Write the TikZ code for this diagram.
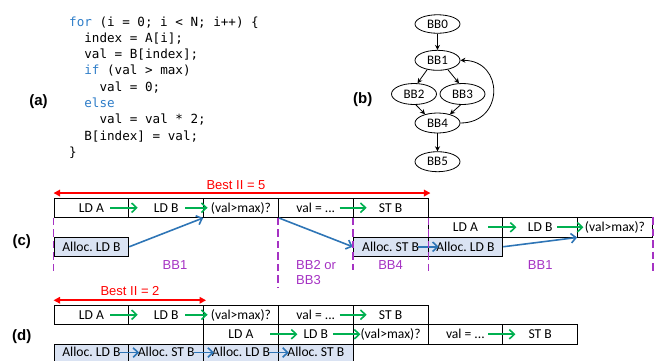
\documentclass[tikz,border=0pt]{standalone}
\usepackage{fontspec}
\setmainfont{Liberation Sans}
\newfontfamily\cellfont{Carlito}
\newfontfamily\codefont{DejaVu Sans Mono}
\usetikzlibrary{arrows.meta,shapes.geometric}
\frenchspacing

\definecolor{kwblue}{RGB}{46,125,200}
\definecolor{flowblue}{RGB}{46,117,182}
\definecolor{depgreen}{RGB}{0,176,80}
\definecolor{bbpurple}{RGB}{165,50,195}
\definecolor{allocfill}{RGB}{218,227,243}
\definecolor{iired}{RGB}{255,0,0}

\tikzset{
  cell/.style={draw=black, line width=0.9pt, rectangle, minimum width=74.8pt,
    minimum height=19.5pt, inner sep=0pt, font=\cellfont\fontsize{13.6}{16}\selectfont,
    text height=8.7pt, text depth=0pt},
  alloc/.style={cell, fill=allocfill},
  % bottom row of (d) runs off the page edge: lift its text a little
  lowalloc/.style={alloc, text depth=3pt},
  dep/.style={depgreen, line width=1.6pt, -{Straight Barb[length=5pt,width=9.5pt,line width=1.6pt]}},
  flow/.style={flowblue, line width=1.6pt, -{Straight Barb[length=5pt,width=9.5pt,line width=1.6pt]}},
  span/.style={iired, line width=1.7pt, {Triangle[length=6.5pt,width=6.5pt]}-{Triangle[length=6.5pt,width=6.5pt]}},
  bbline/.style={bbpurple, line width=1.6pt, dash pattern=on 7.5pt off 4pt},
  bblabel/.style={bbpurple, font=\fontsize{13}{15.5}\selectfont, inner sep=0pt},
  iilabel/.style={iired, font=\fontsize{13}{15.5}\selectfont, inner sep=0pt, anchor=base},
  panel/.style={font=\bfseries\fontsize{15}{18}\selectfont, inner sep=0pt},
  code/.style={font=\codefont\fontsize{12.6}{16.3}\selectfont, anchor=base west, inner sep=0pt},
  bb/.style={ellipse, draw, line width=0.8pt, minimum width=45pt, minimum height=20pt,
    inner sep=0pt, font=\cellfont\fontsize{13}{15}\selectfont},
  cfg/.style={line width=0.8pt, -{Stealth[length=5pt,width=5pt]}},
}

\begin{document}
\begin{tikzpicture}[x=1pt,y=-1pt]
\useasboundingbox (0,0) rectangle (654,360);
\clip (0,0) rectangle (654,360);

% ---------- (a) source loop ----------
\node[panel] (pa) at (38.5,101.5) {(a)};
\node[code] (l1) at (69,26)     {\textcolor{kwblue}{for} (i = 0; i < N; i++) \{};
\node[code] (l2) at (84.2,42.3) {index = A[i];};
\node[code] (l3) at (84.2,58.6) {val = B[index];};
\node[code] (l4) at (84.2,74.9) {\textcolor{kwblue}{if} (val > max)};
\node[code] (l5) at (99.4,91.2) {val = 0;};
\node[code] (l6) at (84.2,107.5){\textcolor{kwblue}{else}};
\node[code] (l7) at (99.4,123.8){val = val * 2;};
\node[code] (l8) at (84.2,140.1){B[index] = val;};
\node[code] (l9) at (69,156.4)  {\}};

% ---------- (b) control-flow graph ----------
\node[panel] (pb) at (362.7,100) {(b)};
\node[bb, minimum height=18.5pt] (bb0) at (437.5,24) {BB0};
\node[bb] (bb1) at (437.5,60.3) {BB1};
\node[bb, minimum height=21pt] (bb2) at (414,94) {BB2};
\node[bb, minimum height=21pt] (bb3) at (462.5,94) {BB3};
\node[bb] (bb4) at (437.5,123) {BB4};
\node[bb] (bb5) at (437.5,161.7) {BB5};
\draw[cfg] (bb0) -- (bb1);
\draw[cfg] (bb1.222) -- (bb2.72);
\draw[cfg] (bb1.318) -- (bb3.108);
\draw[cfg] (bb2.280) -- (bb4.145);
\draw[cfg] (bb3.260) -- (bb4.35);
\draw[cfg] (bb4) -- (bb5);
\draw[cfg] (bb4.east) .. controls +(44,0) and +(44,0) .. (bb1.east);

% ---------- (c) schedule with II = 5 ----------
\node[panel] (pc) at (21.7,242) {(c)};
\node[cell] (cLDA) at (91.4,207.75)  {LD A};
\node[cell] (cLDB) at (166.2,207.75) {LD B};
\node[cell] (cCMP) at (241,207.75)   {(val>max)?};
\node[cell] (cVAL) at (315.8,207.75) {val = ...};
\node[cell] (cST)  at (390.6,207.75) {ST B};
\node[cell] (rLDA) at (465.4,227.25) {LD A};
\node[cell] (rLDB) at (540.2,227.25) {LD B};
\node[cell] (rCMP) at (615,227.25)   {(val>max)?};
\node[alloc] (aLD)  at (91.4,246.75)  {Alloc. LD B};
\node[alloc] (aST)  at (390.6,246.75) {Alloc. ST B};
\node[alloc] (aLD2) at (465.4,246.75) {Alloc. LD B};

\draw[span] ([yshift=4.5pt]cLDA.north west) -- ([xshift=2pt,yshift=4.5pt]cST.north east);
\node[iilabel] (ii5) at (236,189) {Best II = 5};

\draw[dep] ([xshift=-19pt]cLDA.east) -- ([xshift=8.5pt]cLDA.east);
\draw[dep] ([xshift=-18.6pt]cLDB.east) -- ([xshift=3.5pt]cLDB.east);
\draw[dep] ([xshift=-14pt]cVAL.east) -- ([xshift=13pt]cVAL.east);
\draw[dep] ([xshift=-14.8pt]rLDA.east) -- ([xshift=13.2pt]rLDA.east);
\draw[dep] ([xshift=-20.6pt]rLDB.east) -- ([xshift=5.4pt]rLDB.east);

\draw[flow] (aLD.east) -- (cCMP.south west);
\draw[flow] (cCMP.south east) -- (aST.west);
\draw[flow] ([xshift=-10pt]aST.east) -- ([xshift=10.3pt]aST.east);
\draw[flow] (aLD2.east) -- (rCMP.south west);

\draw[bbline] (cLDA.south west) -- ++(0,54.5);
\draw[bbline] (cVAL.south west) -- ++(0,69.5);
\draw[bbline] (cST.south west) -- ++(0,52.5);
\draw[bbline] (cST.south east) -- ++(0,55.5);
\draw[bbline] (rCMP.north east) -- ++(0,55.5);

\node[bblabel, anchor=base] (lb1) at (175,269) {BB1};
\node[bblabel, anchor=base west] (lb23a) at (296,269) {BB2 or};
\node[bblabel, anchor=base west] (lb23b) at (296,284.5) {BB3};
\node[bblabel, anchor=base] (lb4) at (390.6,269) {BB4};
\node[bblabel, anchor=base] (lb1r) at (540.2,269) {BB1};

% ---------- (d) schedule with II = 2 ----------
\node[panel] (pd) at (21.7,337) {(d)};
\node[cell] (dLDA) at (91.4,314.75)  {LD A};
\node[cell] (dLDB) at (166.2,314.75) {LD B};
\node[cell] (dCMP) at (241,314.75)   {(val>max)?};
\node[cell] (dVAL) at (315.8,314.75) {val = ...};
\node[cell] (dST)  at (390.6,314.75) {ST B};
\node[cell] (eLDA) at (241,334.25)   {LD A};
\node[cell] (eLDB) at (315.8,334.25) {LD B};
\node[cell] (eCMP) at (390.6,334.25) {(val>max)?};
\node[cell] (eVAL) at (465.4,334.25) {val = ...};
\node[cell] (eST)  at (540.2,334.25) {ST B};
\node[lowalloc] (fA1) at (91.4,353.75)  {Alloc. LD B};
\node[lowalloc] (fA2) at (166.2,353.75) {Alloc. ST B};
\node[lowalloc] (fA3) at (241,353.75)   {Alloc. LD B};
\node[lowalloc] (fA4) at (315.8,353.75) {Alloc. ST B};

\draw[span] ([yshift=4.3pt]dLDA.north west) -- ([xshift=2pt,yshift=4.3pt]dLDB.north east);
\node[iilabel] (ii2) at (130,295) {Best II = 2};

\draw[dep] ([xshift=-19pt]dLDA.east) -- ([xshift=8.5pt]dLDA.east);
\draw[dep] ([xshift=-18.6pt]dLDB.east) -- ([xshift=3.5pt]dLDB.east);
\draw[dep] ([xshift=-14pt]dVAL.east) -- ([xshift=13pt]dVAL.east);
\draw[dep] ([xshift=-8.4pt]eLDA.east) -- ([xshift=18.6pt]eLDA.east);
\draw[dep] ([xshift=-20.2pt]eLDB.east) -- ([xshift=6.8pt]eLDB.east);
\draw[dep] ([xshift=-14.8pt]eVAL.east) -- ([xshift=12.2pt]eVAL.east);

\draw[flow] ([xshift=-10pt,yshift=1.2pt]fA1.east) -- ([xshift=10pt,yshift=1.2pt]fA1.east);
\draw[flow] ([xshift=-10pt,yshift=1.2pt]fA2.east) -- ([xshift=10pt,yshift=1.2pt]fA2.east);
\draw[flow] ([xshift=-10pt,yshift=1.2pt]fA3.east) -- ([xshift=10pt,yshift=1.2pt]fA3.east);
\end{tikzpicture}
\end{document}
